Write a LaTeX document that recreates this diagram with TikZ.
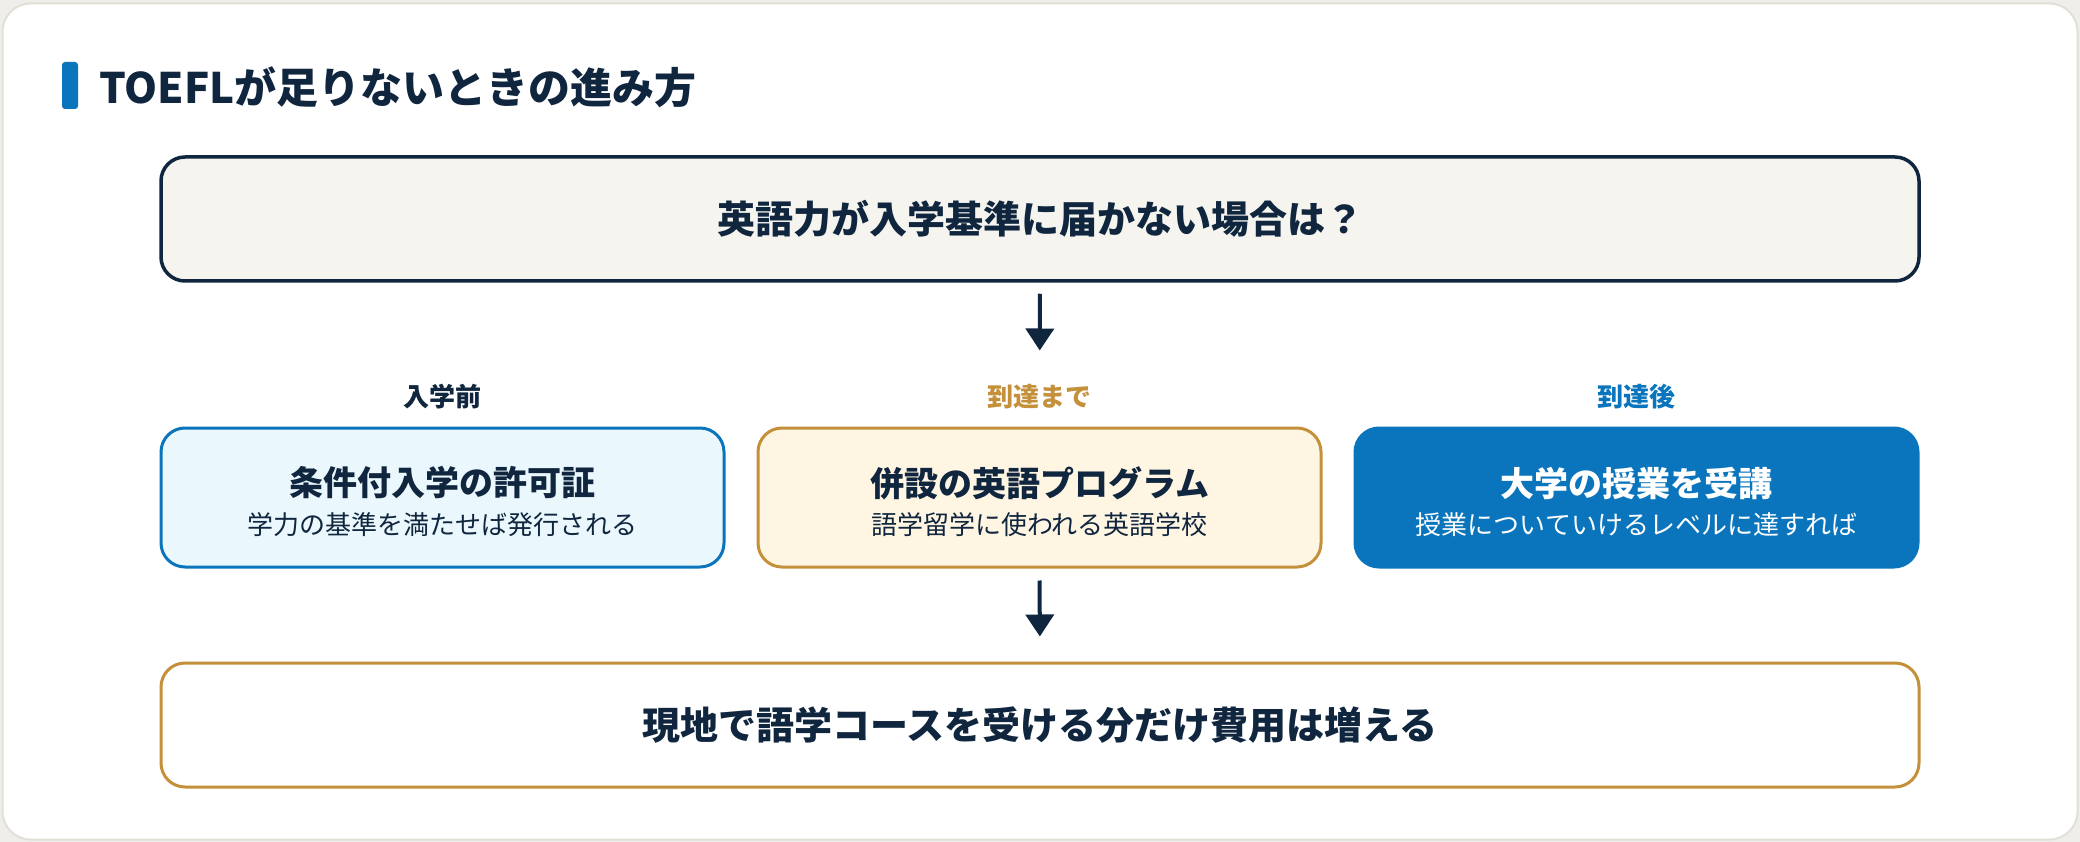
\documentclass[tikz,border=0pt]{standalone}
\usepackage{fontspec}
\setmainfont{Noto Sans CJK JP}
\usetikzlibrary{arrows.meta}
\definecolor{navy}{HTML}{10263E}
\definecolor{topfill}{HTML}{F5F4EF}
\definecolor{blu}{HTML}{0A75BC}
\definecolor{blufill}{HTML}{EAF7FD}
\definecolor{gold}{HTML}{C4903A}
\definecolor{goldfill}{HTML}{FFF5E3}
\definecolor{cardline}{HTML}{E2E0D6}
\definecolor{outside}{HTML}{EFEEEA}
\newcommand{\fs}[1]{\fontsize{#1}{#1}\selectfont}
\tikzset{
  box/.style={rectangle, rounded corners=24pt, line width=3pt, inner sep=0pt},
  widebox/.style={box, minimum width=1758pt, minimum height=124pt},
  rowbox/.style={box, minimum width=563pt, minimum height=139pt},
  bigtext/.style={font=\fs{38}\bfseries, text=navy, inner sep=0pt},
  boxtitle/.style={font=\fs{34}\bfseries, inner sep=0pt},
  boxsub/.style={font=\fs{26}, inner sep=0pt},
  steplabel/.style={font=\fs{26}\bfseries, inner sep=0pt},
  arr/.style={line width=4pt, navy, -{Triangle[width=28pt,length=22pt]}},
}
\begin{document}
\begin{tikzpicture}[x=1pt,y=-1pt]
\useasboundingbox (0,0) rectangle (2080,842);
\fill[outside] (0,0) rectangle (2080,842);
\draw[cardline, fill=white, line width=2pt, rounded corners=28pt] (2.5,3.5) rectangle (2077.5,839.5);
% title
\fill[blu, rounded corners=3pt] (62,62) rectangle (78,109);
\node[anchor=west, font=\fs{42}\bfseries, text=navy, inner sep=0pt] (title) at (99,87) {TOEFLが足りないときの進み方};
% top box
\node[widebox, draw=navy, fill=topfill, line width=3.5pt] (top) at (1040,219) {};
\node[bigtext] (toptext) at (top.center) {英語力が入学基準に届かない場合は？};
% labels
\node[steplabel, text=navy] (lab1) at (442.5,397) {入学前};
\node[steplabel, text=gold] (lab2) at (1039.5,397) {到達まで};
\node[steplabel, text=blu] (lab3) at (1636.5,397) {到達後};
% row boxes
\node[rowbox, draw=blu, fill=blufill] (b1) at (442.5,497.5) {};
\node[rowbox, draw=gold, fill=goldfill] (b2) at (1039.5,497.5) {};
\node[rowbox, draw=blu, fill=blu] (b3) at (1636.5,497.5) {};
\node[boxtitle, text=navy] (t1) at ([yshift=14.5pt]b1.center) {条件付入学の許可証};
\node[boxsub, text=navy] (s1) at ([yshift=-27.5pt]b1.center) {学力の基準を満たせば発行される};
\node[boxtitle, text=navy] (t2) at ([yshift=14.5pt]b2.center) {併設の英語プログラム};
\node[boxsub, text=navy] (s2) at ([yshift=-27.5pt]b2.center) {語学留学に使われる英語学校};
\node[boxtitle, text=white] (t3) at ([yshift=14.5pt]b3.center) {大学の授業を受講};
\node[boxsub, text=white] (s3) at ([yshift=-27.5pt]b3.center) {授業についていけるレベルに達すれば};
% bottom box
\node[widebox, draw=gold, fill=white] (bot) at (1040,725) {};
\node[bigtext] (bottext) at (bot.center) {現地で語学コースを受ける分だけ費用は増える};
% arrows
\draw[arr, shorten <=11pt, shorten >=76pt] (top.south) -- (b2.north);
\draw[arr, shorten <=12pt, shorten >=25pt] (b2.south) -- (bot.north);
\end{tikzpicture}
\end{document}
